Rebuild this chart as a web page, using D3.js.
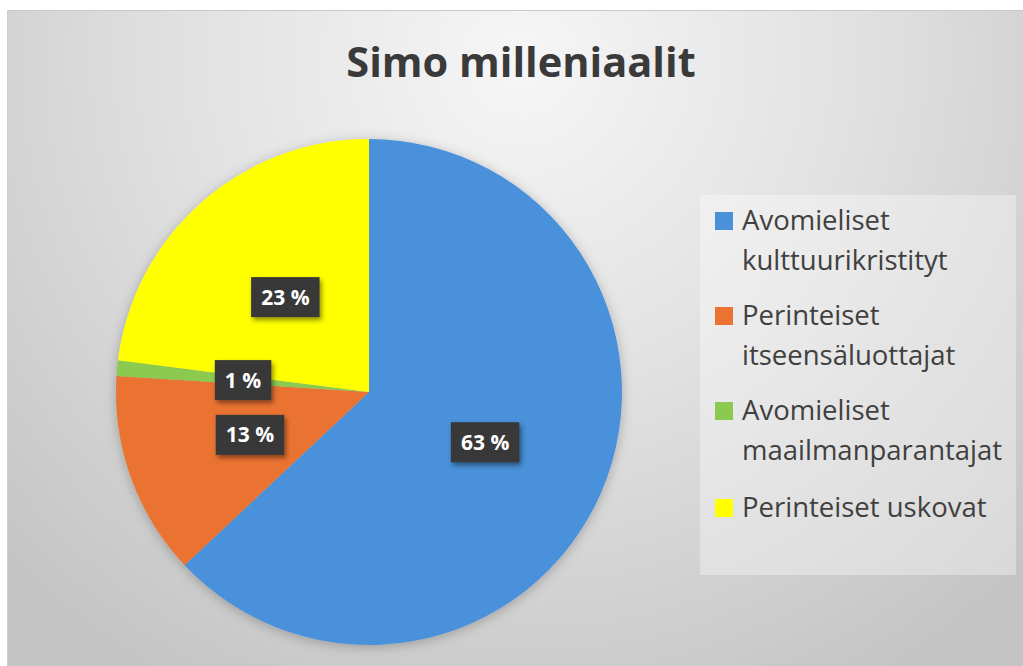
<!DOCTYPE html>
<html>
<head>
<meta charset="utf-8">
<script src="https://cdn.jsdelivr.net/npm/d3@7"></script>
<style>
  html, body { margin: 0; padding: 0; background: #ffffff; }
  svg { display: block; }
</style>
</head>
<body>
<svg id="chart" width="1023" height="666"></svg>
<script>
const title = "Simo milleniaalit";
const categories = [
  ["Avomieliset", "kulttuurikristityt"],
  ["Perinteiset", "itseensäluottajat"],
  ["Avomieliset", "maailmanparantajat"],
  ["Perinteiset uskovat"]
];
const values = [63, 13, 1, 23];
const labels = ["63 %", "13 %", "1 %", "23 %"];
const colors = ["#4A91DA", "#EB7331", "#8CC950", "#FFFF00"];

const W = 1023, H = 666;
const svg = d3.select("#chart");
const defs = svg.append("defs");

const bg = defs.append("radialGradient").attr("id", "bg")
  .attr("gradientUnits", "userSpaceOnUse")
  .attr("cx", 520).attr("cy", 60).attr("r", 720);
bg.append("stop").attr("offset", "0%").attr("stop-color", "#f6f6f6");
bg.append("stop").attr("offset", "45%").attr("stop-color", "#e2e2e2");
bg.append("stop").attr("offset", "100%").attr("stop-color", "#c4c4c4");

const shadow = defs.append("filter").attr("id", "pieShadow")
  .attr("x", "-20%").attr("y", "-20%").attr("width", "140%").attr("height", "140%");
shadow.append("feDropShadow").attr("dx", 0).attr("dy", 2).attr("stdDeviation", 6)
  .attr("flood-color", "#000").attr("flood-opacity", 0.25);

const lblShadow = defs.append("filter").attr("id", "lblShadow")
  .attr("x", "-30%").attr("y", "-30%").attr("width", "160%").attr("height", "160%");
lblShadow.append("feDropShadow").attr("dx", 2).attr("dy", 3).attr("stdDeviation", 2.5)
  .attr("flood-color", "#000").attr("flood-opacity", 0.45);

// chart area
svg.append("rect").attr("x", 7).attr("y", 10).attr("width", W - 7).attr("height", H - 10)
  .attr("fill", "url(#bg)");
svg.append("line").attr("x1", 7).attr("x2", W).attr("y1", 10.5).attr("y2", 10.5)
  .attr("stroke", "#c8c8c8").attr("stroke-width", 1);
svg.append("line").attr("x1", 7.5).attr("x2", 7.5).attr("y1", 10).attr("y2", H)
  .attr("stroke", "#d0d0d0").attr("stroke-width", 1);

// title
svg.append("text").attr("x", 521).attr("y", 77)
  .attr("text-anchor", "middle")
  .attr("font-family", "'Open Sans', sans-serif")
  .attr("font-weight", 700).attr("font-size", 41.5)
  .attr("fill", "#3a3a3a")
  .text(title);

// pie
const cx = 369, cy = 392, R = 253;
const pie = d3.pie().sort(null).value(d => d)(values);
const arc = d3.arc().innerRadius(0).outerRadius(R);
const g = svg.append("g").attr("transform", `translate(${cx},${cy})`);
const slices = g.append("g").attr("filter", "url(#pieShadow)");
slices.selectAll("path").data(pie).join("path")
  .attr("d", arc)
  .attr("fill", (d, i) => colors[i]);

// data labels
const lg = g.selectAll("g.lbl").data(pie).join("g").attr("class", "lbl")
  .attr("transform", d => `translate(${arc.centroid(d)})`);
lg.each(function(d, i) {
  const el = d3.select(this);
  const rect = el.append("rect").attr("fill", "#383838").attr("filter", "url(#lblShadow)");
  const t = el.append("text")
    .attr("text-anchor", "middle").attr("dy", "0.36em")
    .attr("font-family", "'Open Sans', sans-serif")
    .attr("font-weight", 700).attr("font-size", 21)
    .attr("fill", "#ffffff").text(labels[i]);
  const bb = t.node().getBBox();
  const w = bb.width + 20, h = 40;
  rect.attr("x", -w / 2).attr("y", -h / 2).attr("width", w).attr("height", h);
});

// legend
const lx = 700, ly = 195;
svg.append("rect").attr("x", lx).attr("y", ly).attr("width", 316).attr("height", 380)
  .attr("fill", "#ffffff").attr("fill-opacity", 0.35);
const leg = svg.append("g").attr("transform", `translate(${lx},${ly})`);
const entryY = [35, 130, 225, 322];
categories.forEach((lines, i) => {
  const e = leg.append("g").attr("transform", `translate(0,${entryY[i]})`);
  e.append("rect").attr("x", 15).attr("y", -18).attr("width", 18).attr("height", 18)
    .attr("fill", colors[i]);
  lines.forEach((ln, j) => {
    e.append("text").attr("x", 42).attr("y", j * 40)
      .attr("font-family", "'Open Sans', sans-serif")
      .attr("font-size", 27.5).attr("fill", "#404040")
      .text(ln);
  });
});
</script>
</body>
</html>
